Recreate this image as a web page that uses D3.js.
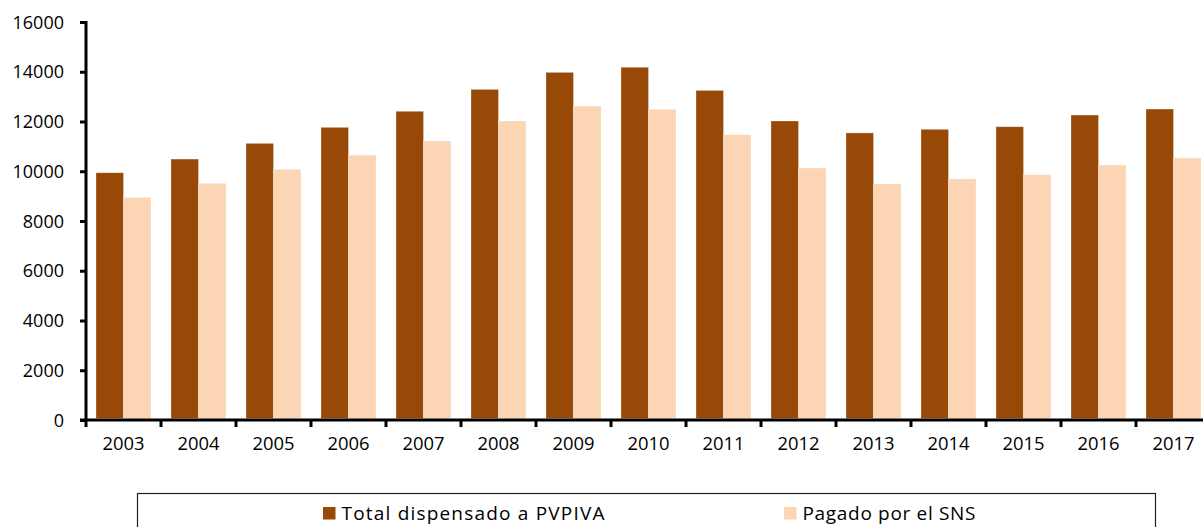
<!DOCTYPE html>
<html>
<head>
<meta charset="utf-8">
<script src="https://cdn.jsdelivr.net/npm/d3@7"></script>
<style>
  html, body { margin: 0; padding: 0; background: #fff; }
  svg { display: block; }
  text { font-family: "Open Sans", sans-serif; fill: #000; }
</style>
</head>
<body>
<svg id="chart" width="1203" height="527"></svg>
<script>
const years = ["2003","2004","2005","2006","2007","2008","2009","2010","2011","2012","2013","2014","2015","2016","2017"];
const totalDispensado = [9940, 10490, 11120, 11765, 12410, 13290, 13975, 14180, 13250, 12020, 11540, 11685, 11790, 12260, 12500];
const pagadoSNS = [8950, 9515, 10080, 10650, 11215, 12020, 12620, 12490, 11470, 10130, 9490, 9690, 9860, 10250, 10530];
const yTicks = [0, 2000, 4000, 6000, 8000, 10000, 12000, 14000, 16000];
const seriesNames = ["Total dispensado a PVPIVA", "Pagado por el SNS"];
const seriesColors = ["#984807", "#FCD5B5"];

const svg = d3.select("#chart");
const x0 = 86, yTop = 22, yBottom = 420;

const x = d3.scaleBand().domain(years)
  .range([x0, x0 + 1125])
  .paddingInner(20 / 75).paddingOuter(10 / 75);
const xs = d3.scaleBand().domain([0, 1]).range([0, x.bandwidth()]);
const y = d3.scaleLinear().domain([0, 16000]).range([yBottom, yTop]);

const series = [totalDispensado, pagadoSNS];
const g = svg.append("g");
series.forEach((vals, si) => {
  g.selectAll(null).data(years).enter().append("rect")
    .attr("x", d => x(d) + xs(si))
    .attr("width", xs.bandwidth())
    .attr("y", (d, i) => y(vals[i]))
    .attr("height", (d, i) => y(0) - y(vals[i]) - 1.5)
    .attr("fill", seriesColors[si])
    .attr("stroke", "rgba(255,255,255,0.35)")
    .attr("stroke-width", 0.8);
});

// Y axis
const yAxis = d3.axisLeft(y).tickValues(yTicks).tickSize(6).tickPadding(16).tickFormat(d3.format("d"));
const ya = svg.append("g").attr("transform", `translate(${x0},0)`).call(yAxis);
ya.select(".domain").attr("stroke", "#000").attr("stroke-width", 3).attr("d", `M0,${yTop - 1}V${yBottom + 1}`);
ya.selectAll(".tick line").attr("stroke", "#000").attr("stroke-width", 3);
ya.selectAll(".tick text").style("font-size", "18px").attr("dy", "0.34em");

// X axis
const xAxis = d3.axisBottom(x).tickSize(0).tickPadding(17);
const xa = svg.append("g").attr("transform", `translate(0,${yBottom})`).call(xAxis);
xa.select(".domain").attr("stroke", "#000").attr("stroke-width", 3).attr("d", `M${x0 - 6},0H${x0 + 1125}`);
xa.selectAll(".tick text").style("font-size", "18.4px");
// boundary ticks
const bounds = years.map(d => x(d) - x.step() * x.paddingInner() / 2).concat([x0 + 1125]);
xa.selectAll(".btick").data(bounds).enter().append("line")
  .attr("x1", d => d).attr("x2", d => d).attr("y1", 0).attr("y2", 7)
  .attr("stroke", "#000").attr("stroke-width", 3);

// Legend
svg.append("rect").attr("x", 137.5).attr("y", 493.5).attr("width", 1018).attr("height", 60)
  .attr("fill", "#fff").attr("stroke", "#222").attr("stroke-width", 1.2);
const legendX = [323, 784];
const legendLen = [263, 173];
seriesNames.forEach((name, i) => {
  svg.append("rect").attr("x", legendX[i]).attr("y", 507).attr("width", 12.5).attr("height", 12.5)
    .attr("fill", seriesColors[i]);
  svg.append("text").attr("x", legendX[i] + 18.5).attr("y", 519.5)
    .attr("textLength", legendLen[i]).attr("lengthAdjust", "spacing")
    .style("font-size", "19px").text(name);
});
</script>
</body>
</html>
